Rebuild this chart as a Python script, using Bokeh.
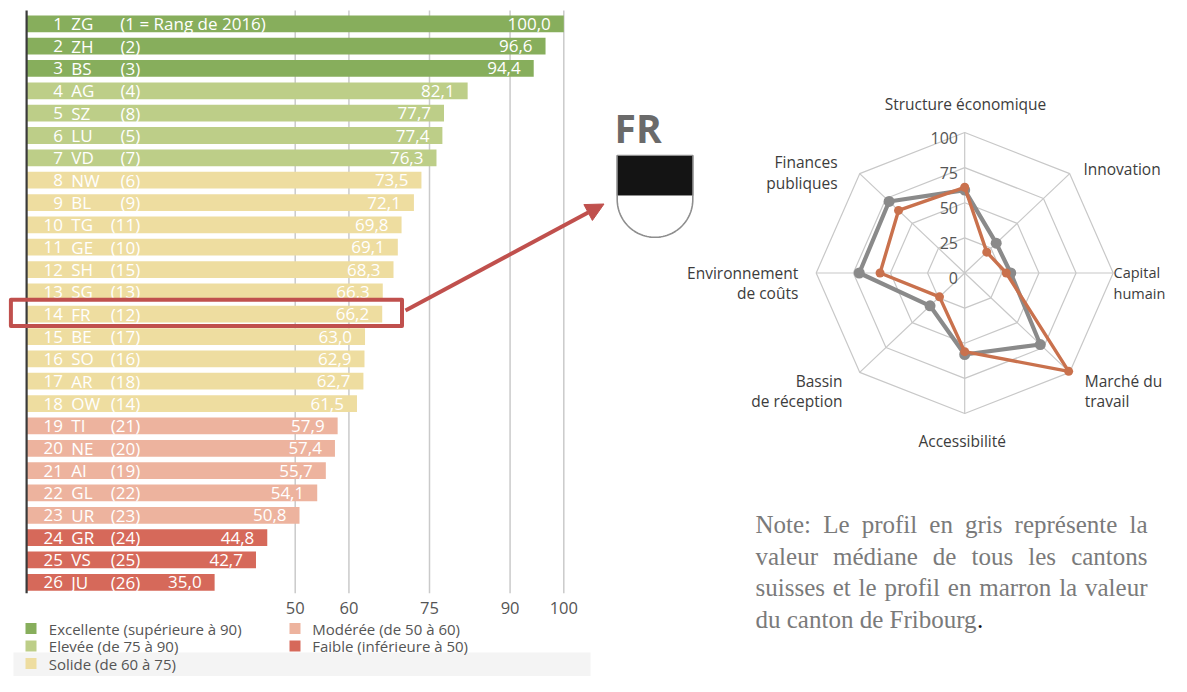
import numpy as np
from bokeh.plotting import figure
from bokeh.models import Range1d, ColumnDataSource, Arrow, NormalHead
from bokeh.core.properties import value
from bokeh.embed import file_html
from bokeh.resources import INLINE

# ---------------- data: ranking bar chart ----------------
ranks = list(range(1, 27))
cantons = ["ZG", "ZH", "BS", "AG", "SZ", "LU", "VD", "NW", "BL", "TG", "GE", "SH", "SG",
           "FR", "BE", "SO", "AR", "OW", "TI", "NE", "AI", "GL", "UR", "GR", "VS", "JU"]
rank_2016 = ["1 = Rang de 2016", "2", "3", "4", "8", "5", "7", "6", "9", "11", "10", "15", "13",
             "12", "17", "16", "18", "14", "21", "20", "19", "22", "23", "24", "25", "26"]
scores = [100.0, 96.6, 94.4, 82.1, 77.7, 77.4, 76.3, 73.5, 72.1, 69.8, 69.1, 68.3, 66.3,
          66.2, 63.0, 62.9, 62.7, 61.5, 57.9, 57.4, 55.7, 54.1, 50.8, 44.8, 42.7, 35.0]
x_ticks = [50, 60, 75, 90, 100]
category_labels = ["Excellente (supérieure à 90)", "Elevée (de 75 à 90)", "Solide (de 60 à 75)",
                   "Modérée (de 50 à 60)", "Faible (inférieure à 50)"]
category_lower = [90, 75, 60, 50, 0]
category_colors = ["#87AE5C", "#BDCE88", "#EEDDA0", "#EDB39E", "#D6695A"]

# ---------------- data: radar (Fribourg) ----------------
radar_axes = ["Structure économique", "Innovation", "Capital\nhumain", "Marché du\ntravail",
              "Accessibilité", "Bassin\nde réception", "Environnement\nde coûts", "Finances\npubliques"]
radar_median = [59, 30, 31, 72, 58, 33, 71, 72]
radar_fribourg = [61, 21, 28, 99, 56, 24, 57, 63]
radar_rings = [25, 50, 75, 100]
radar_ticks = [0, 25, 50, 75, 100]

note_lines = [
    "Note: Le profil en gris représente la",
    "valeur médiane de tous les cantons",
    "suisses et le profil en marron la valeur",
    "du canton de Fribourg",
]

# ---------------- figure (default ranges = picture pixels) ----------------
W, H = 1171, 676
p = figure(width=W, height=H, x_range=Range1d(0, W), y_range=Range1d(H, 0),
           output_backend="svg", toolbar_location=None, x_axis_type=None, y_axis_type=None,
           min_border=0)
p.outline_line_color = None
p.background_fill_color = "white"

FONT = value("Open Sans")
RED = "#C0504D"

# bar scales (pixel of value 0, pixels per unit; row 1 centre, row pitch)
BAR_X0, BAR_PX = 26.1, 5.372
ROW_Y0, ROW_PX = 23.3, 22.34
# radar scales
RC_X, RC_Y, R_PX_X, R_PX_Y = 964.2, 272.5, 1.485, 1.405

p.extra_x_ranges = {
    "val": Range1d((0 - BAR_X0) / BAR_PX, (W - BAR_X0) / BAR_PX),
    "rx": Range1d((0 - RC_X) / R_PX_X, (W - RC_X) / R_PX_X),
}
p.extra_y_ranges = {
    "rank": Range1d(1 + (H - ROW_Y0) / ROW_PX, 1 + (0 - ROW_Y0) / ROW_PX),
    "ry": Range1d((RC_Y - H) / R_PX_Y, RC_Y / R_PX_Y),
}

# ---------------- bar chart ----------------
def cat_index(v):
    for i, lo in enumerate(category_lower):
        if v >= lo:
            return i
    return len(category_lower) - 1

bar_colors = [category_colors[cat_index(v)] for v in scores]
src = ColumnDataSource(dict(
    rank=ranks, score=scores, color=bar_colors,
    rank_txt=[str(r) for r in ranks], canton=cantons,
    prev=["(%s)" % r for r in rank_2016],
    val_txt=[("%.1f" % v).replace(".", ",") for v in scores],
))

grid_top, grid_bot = 0.405, 26.49
p.segment(x0=x_ticks, x1=x_ticks, y0=[grid_top] * len(x_ticks), y1=[grid_bot] * len(x_ticks),
          line_color="#CACACA", line_width=1.5, x_range_name="val", y_range_name="rank")

p.hbar(y="rank", left=0, right="score", height=0.75, fill_color="color", line_color=None,
       source=src, x_range_name="val", y_range_name="rank")

p.segment(x0=[0], x1=[0], y0=[grid_top], y1=[grid_bot], line_color="#3A3A3A", line_width=2.2,
          x_range_name="val", y_range_name="rank")

lab_kw = dict(text_font=FONT, text_font_size="17px", text_color="white", text_baseline="middle",
              y_range_name="rank")
rest = ColumnDataSource(dict(rank=ranks[1:], prev=src.data["prev"][1:]))
p.text(x=62.5, y="rank", text="rank_txt", text_align="right", source=src, **lab_kw)
p.text(x=70.8, y="rank", text="canton", text_align="left", source=src, **lab_kw)
p.text(x=139.7, y="rank", text="prev", text_align="right", source=rest, **lab_kw)
p.text(x=[119.8], y=[ranks[0]], text=[src.data["prev"][0]], text_align="left", **lab_kw)
p.text(x="score", y="rank", text="val_txt", text_align="right", x_offset=-13, source=src,
       x_range_name="val", **lab_kw)

# x tick labels
p.text(x=x_ticks, y=[27.14] * len(x_ticks), text=[str(t) for t in x_ticks], text_align="center",
       text_baseline="middle", text_font=FONT, text_font_size="16.5px", text_color="#555555",
       x_range_name="val", y_range_name="rank")

# legend (manual, two columns)
p.quad(left=[13], right=[590], top=[652], bottom=[H], fill_color="#F4F4F4", line_color=None)
leg_col = [0 if i < 3 else 1 for i in range(len(category_labels))]
leg_row = [i if i < 3 else i - 3 for i in range(len(category_labels))]
mark_x = [[30.5, 294.5][c] for c in leg_col]
text_x = [[48.3, 311.7][c] for c in leg_col]
leg_y = [628.0 + r * 17.5 for r in leg_row]
p.scatter(x=mark_x, y=leg_y, marker="square", size=11, fill_color=category_colors, line_color=None)
p.text(x=text_x, y=leg_y, text=category_labels, text_align="left", text_baseline="middle",
       text_font=FONT, text_font_size="15px", text_color="#555555")

# highlight + arrow
p.quad(left=[10.4], right=[401.5], top=[299.3], bottom=[325.5], fill_color=None,
       line_color=RED, line_width=4, line_join="round")
p.add_layout(Arrow(end=NormalHead(size=18, fill_color=RED, line_color=RED, line_width=1),
                   x_start=405, y_start=310, x_end=603.5, y_end=203.5,
                   line_color=RED, line_width=4))

# ---------------- FR title + shield ----------------
p.text(x=[614], y=[126.7], text=["FR"], text_align="left", text_baseline="alphabetic",
       text_font=FONT, text_font_style="bold", text_font_size="39px", text_color="#6A6A6A")
sx0, sx1, s_top, s_mid = 616.7, 692.3, 155, 195
scx, scy, sr = (sx0 + sx1) / 2, 199.0, (sx1 - sx0) / 2
th = np.linspace(0, np.pi, 61)
shield_x = [sx0, sx0] + list(scx - sr * np.cos(th)) + [sx1, sx1]
shield_y = [s_top, scy] + list(scy + sr * np.sin(th)) + [scy, s_top]
p.patch(shield_x, shield_y, fill_color="white", line_color="#8E8E8E", line_width=1.6)
p.quad(left=[sx0], right=[sx1], top=[s_top], bottom=[s_mid], fill_color="#141414",
       line_color="#8E8E8E", line_width=1.2)

# ---------------- radar ----------------
n_ax = len(radar_axes)
ang = np.pi / 2 - np.arange(n_ax) * 2 * np.pi / n_ax
cosA, sinA = np.cos(ang), np.sin(ang)
rkw = dict(x_range_name="rx", y_range_name="ry")

ring_xs = [list(np.append(r * cosA, r * cosA[0])) for r in radar_rings]
ring_ys = [list(np.append(r * sinA, r * sinA[0])) for r in radar_rings]
p.multi_line(ring_xs, ring_ys, line_color="#C8C8C8", line_width=1.2, **rkw)
p.segment(x0=[0] * n_ax, y0=[0] * n_ax, x1=list(100 * cosA), y1=list(100 * sinA),
          line_color="#C8C8C8", line_width=1.2, **rkw)

def closed(vals, trig):
    a = np.array(vals, dtype=float) * trig
    return list(np.append(a, a[0]))

for vals, col, lw, ms in [(radar_median, "#8A8A8A", 4.2, 11), (radar_fribourg, "#C9714D", 3.4, 9)]:
    p.line(closed(vals, cosA), closed(vals, sinA), line_color=col, line_width=lw,
           line_join="round", **rkw)
    p.scatter(list(np.array(vals) * cosA), list(np.array(vals) * sinA), marker="circle",
              size=ms, fill_color=col, line_color=None, **rkw)

p.text(x=[-4.5] * len(radar_ticks), y=[t - 3.6 for t in radar_ticks],
       text=[str(t) for t in radar_ticks], text_align="right", text_baseline="middle",
       text_font=FONT, text_font_size="16px", text_color="#555555", **rkw)

# axis titles (picture coordinates, one entry per text line)
lab_pos = [(965.0, 103.3, "center"), (1082.9, 168.3, "left"), (1113.0, 272.3, "left"),
           (1084.2, 380.0, "left"), (961.7, 440.7, "center"), (842.0, 380.0, "right"),
           (797.8, 272.3, "right"), (837.1, 161.7, "right")]
lab_size = ["15.5px", "15.5px", "14.5px", "15.5px", "15.5px", "15.5px", "15.5px", "15.5px"]
tx, ty, tt, ta, ts = [], [], [], [], []
for name, (lx, ly, al), fs in zip(radar_axes, lab_pos, lab_size):
    for k, line in enumerate(name.split("\n")):
        tx.append(lx); ty.append(ly + 20.3 * k); tt.append(line); ta.append(al); ts.append(fs)
p.text(x=tx, y=ty, text=tt, text_align=ta, text_baseline="middle", text_font=FONT,
       text_font_size=ts, text_color="#3C3C3C")

# ---------------- justified note (Times metrics = Liberation Serif) ----------------
TW = {'a': 444, 'b': 500, 'c': 444, 'd': 500, 'e': 444, 'f': 333, 'g': 500, 'h': 500, 'i': 278,
      'l': 278, 'm': 778, 'n': 500, 'o': 500, 'p': 500, 'q': 500, 'r': 333, 's': 389, 't': 278,
      'u': 500, 'v': 500, 'é': 444, 'N': 722, 'L': 611, 'F': 556, ':': 278, '.': 250, ' ': 250}
NOTE_FS, NOTE_L, NOTE_R = 25.0, 755.0, 1147.0
def wlen(s):
    return sum(TW.get(ch, 500) for ch in s) / 1000.0 * NOTE_FS

nx, ny, nt = [], [], []
for li, line in enumerate(note_lines):
    words = line.split(" ")
    widths = [wlen(w) for w in words]
    if li < len(note_lines) - 1:
        gap = (NOTE_R - NOTE_L - sum(widths)) / (len(words) - 1)
    else:
        gap = wlen(" ")
    x = NOTE_L
    yb = 524.0 + li * 31.5
    for w, wd in zip(words, widths):
        nx.append(x); ny.append(yb); nt.append(w)
        x += wd + gap
    last_end = x - gap
p.text(x=nx, y=ny, text=nt, text_align="left", text_baseline="alphabetic",
       text_font=value("Liberation Serif"), text_font_size="%gpx" % NOTE_FS, text_color="#7A7A7A")
p.text(x=[last_end], y=[ny[-1]], text=["."], text_align="left", text_baseline="alphabetic",
       text_font=value("Liberation Serif"), text_font_size="%gpx" % NOTE_FS, text_color="#111111")

open("out.html", "w").write(file_html(p, INLINE))
